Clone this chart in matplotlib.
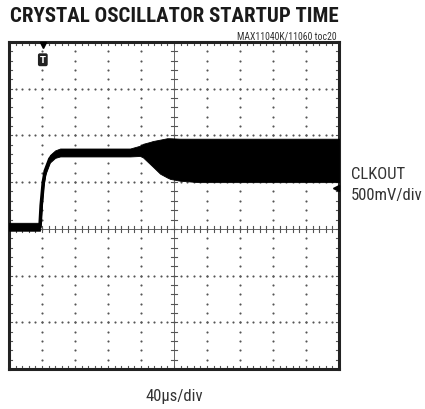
import numpy as np
import matplotlib.pyplot as plt

# scope settings
t_div = 40.0      # us per division
v_div = 0.5       # V per division
n_xdiv = 10
y_lo_div, y_hi_div = -3, 4

# CLKOUT trace envelope (t in us, volts)
t_us = [0, 37.6, 39, 41.6, 44, 49.6, 56, 62, 100, 146.8, 158.8, 162.4,
        170.8, 174.4, 183.2, 191.6, 195.2, 207.2, 230, 400]
v_upper = [0.065, 0.065, 0.35, 0.55, 0.66, 0.79, 0.84, 0.86, 0.86, 0.86, 0.89,
           0.91, 0.93, 0.94, 0.955, 0.97, 0.97, 0.965, 0.965, 0.965]
v_lower = [-0.02, -0.02, 0.15, 0.45, 0.58, 0.71, 0.76, 0.775, 0.775, 0.775,
           0.78, 0.765, 0.695, 0.665, 0.59, 0.55, 0.535, 0.515, 0.5, 0.5]

trig_t = 41.0     # trigger position
ref_v = 0.44      # channel reference arrow

cond = ['Roboto Condensed', 'Archivo Narrow', 'DejaVu Sans']

fig = plt.figure(figsize=(4.25, 4.1), dpi=100)
ax = fig.add_axes([9 / 425, 1 - 370 / 410, 330 / 425, 327 / 410])
xmax = n_xdiv * t_div
ax.set_xlim(0, xmax)
ax.set_ylim(y_lo_div * v_div, y_hi_div * v_div)
ax.set_xticks([])
ax.set_yticks([])
for s in ax.spines.values():
    s.set_linewidth(2.2)
    s.set_color('#222222')

# dotted graticule
dot = dict(color='#555555', s=2.4, lw=0, zorder=1)
xs_fine = np.arange(0, xmax + 0.01, t_div / 5)
ys_fine = np.arange(y_lo_div * v_div, y_hi_div * v_div + 0.001, v_div / 5)
for k in range(y_lo_div + 1, y_hi_div):
    if k == 0:
        continue
    ax.scatter(xs_fine, np.full_like(xs_fine, k * v_div), **dot)
for k in range(1, n_xdiv):
    if k == 5:
        continue
    ax.scatter(np.full_like(ys_fine, k * t_div), ys_fine, **dot)

# centre axes with minor ticks
ax.axhline(0, color='#666666', lw=0.7, zorder=1)
ax.axvline(xmax / 2, color='#666666', lw=0.7, zorder=1)
hx = 0.035
hy = 3.5
for x in xs_fine:
    ax.plot([x, x], [-hx, hx], color='#555555', lw=0.8, zorder=1)
    ax.plot([x, x], [y_lo_div * v_div, y_lo_div * v_div + hx], color='#555555', lw=0.8, zorder=1)
    ax.plot([x, x], [y_hi_div * v_div, y_hi_div * v_div - hx], color='#555555', lw=0.8, zorder=1)
for y in ys_fine:
    ax.plot([xmax / 2 - hy, xmax / 2 + hy], [y, y], color='#555555', lw=0.8, zorder=1)
    ax.plot([0, hy], [y, y], color='#555555', lw=0.8, zorder=1)
    ax.plot([xmax, xmax - hy], [y, y], color='#555555', lw=0.8, zorder=1)

# trace
ax.fill_between(t_us, v_lower, v_upper, color='black', lw=0.6, zorder=3)
mid = [(a + b) / 2 for a, b in zip(v_upper, v_lower)]
ax.plot(t_us[:9], mid[:9], color='black', lw=2.6, zorder=3)

# markers
ax.plot(trig_t, y_hi_div * v_div - 0.03, marker='v', color='black', ms=4, zorder=4, clip_on=False)
ax.text(trig_t, y_hi_div * v_div - 0.19, 'T', color='white', fontsize=6, fontweight='bold',
        ha='center', va='center', zorder=5,
        bbox=dict(boxstyle='round,pad=0.15', fc='#222222', ec='#222222'))
ax.plot(xmax - 4, ref_v, marker='<', color='black', ms=4, zorder=4, clip_on=False)

# texts
fig.text(174 / 425, 1 - 16 / 410, 'CRYSTAL OSCILLATOR STARTUP TIME', ha='center', va='center',
         fontsize=15, fontweight=900, family=cond, color='#1a1a1a')
fig.text(337 / 425, 1 - 36 / 410, 'MAX11040K/11060 toc20', ha='right', va='center',
         fontsize=7, family=cond, color='#333333')
fig.text(351 / 425, 1 - 175 / 410, 'CLKOUT', ha='left', va='center',
         fontsize=12, family=cond, color='#333333')
fig.text(351 / 425, 1 - 196 / 410, '500mV/div', ha='left', va='center',
         fontsize=12, family=cond, color='#333333')
fig.text(174 / 425, 1 - 397 / 410, '40\u00b5s/div', ha='center', va='center',
         fontsize=12, family=cond, color='#333333')

fig.savefig('out.png', dpi=100)
